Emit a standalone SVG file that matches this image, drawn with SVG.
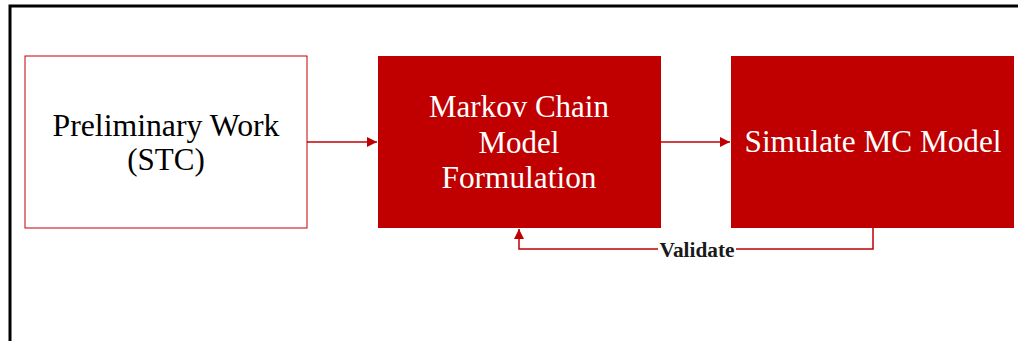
<svg xmlns="http://www.w3.org/2000/svg" width="1018" height="341" viewBox="0 0 1018 341">
<style>
.t{font-family:"Liberation Serif","Times New Roman",serif;font-size:31px;text-anchor:middle}
.w{fill:#fff}
.k{fill:#000}
.c{fill:none;stroke:#C00000;stroke-width:1.5}
</style>
<defs>
<marker id="ah" viewBox="0 0 10 10" refX="10" refY="5" markerWidth="11" markerHeight="10" markerUnits="userSpaceOnUse" orient="auto">
<path d="M0,0 L10,5 L0,10 Z" fill="#C00000"/>
</marker>
</defs>
<rect width="1018" height="341" fill="#fff"/>
<path d="M10,341 V6 H1018" fill="none" stroke="#000" stroke-width="3"/>
<g id="preliminary">
<rect x="25" y="56" width="282" height="172" fill="#fff" stroke="#C00000" stroke-width="1"/>
<text class="t k" x="166" y="136" textLength="227" lengthAdjust="spacingAndGlyphs">Preliminary Work</text>
<text class="t k" x="166" y="170">(STC)</text>
</g>
<g id="markov">
<rect x="378" y="56" width="283" height="172" fill="#C00000"/>
<text class="t w" x="519" y="117" textLength="180" lengthAdjust="spacingAndGlyphs">Markov Chain</text>
<text class="t w" x="519" y="153">Model</text>
<text class="t w" x="519" y="188" textLength="155" lengthAdjust="spacingAndGlyphs">Formulation</text>
</g>
<g id="simulate">
<rect x="731" y="56" width="283" height="172" fill="#C00000"/>
<text class="t w" x="873" y="152" textLength="257" lengthAdjust="spacingAndGlyphs">Simulate MC Model</text>
</g>
<g id="connectors">
<path class="c" d="M307,142 H377" marker-end="url(#ah)"/>
<path class="c" d="M661,142 H730" marker-end="url(#ah)"/>
<path class="c" d="M873,228 V249 H519 V229" marker-end="url(#ah)"/>
<rect x="658" y="240" width="78" height="18" fill="#fff"/>
<text x="697" y="257" textLength="75" lengthAdjust="spacingAndGlyphs" style="font-family:'Liberation Serif','Times New Roman',serif;font-size:20px;font-weight:bold;text-anchor:middle" fill="#1a1a1a">Validate</text>
</g>
</svg>
